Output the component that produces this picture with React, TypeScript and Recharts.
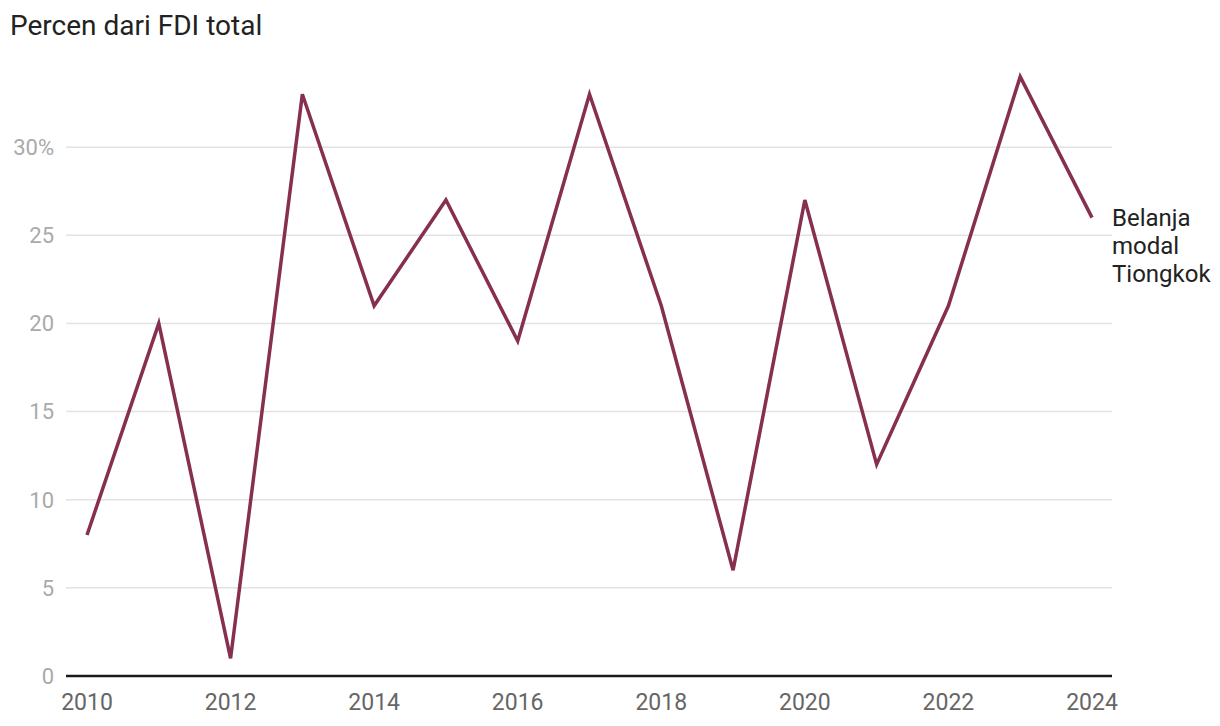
import React from "react";
import { LineChart, Line, XAxis, YAxis, CartesianGrid, LabelList } from "recharts";

const years = [2010, 2011, 2012, 2013, 2014, 2015, 2016, 2017, 2018, 2019, 2020, 2021, 2022, 2023, 2024];
const capexShare = [8, 20, 1, 33, 21, 27, 19, 33, 21, 6, 27, 12, 21, 34, 26];
const xTicks = [2010, 2012, 2014, 2016, 2018, 2020, 2022, 2024];
const yTicks = [0, 5, 10, 15, 20, 25, 30];
const seriesLabel = ["Belanja", "modal", "Tiongkok"];
const title = "Percen dari FDI total";

const data = years.map((y, i) => ({ year: y, value: capexShare[i] }));

const FONT = "Roboto, 'Noto Sans', sans-serif";
const LINE_COLOR = "#862f50";

const EndLabel = (props: any) => {
  const { x, y, index } = props;
  if (index !== data.length - 1) return null;
  return (
    <text x={x + 20} y={y + 8} fill="#222" fontSize={24} fontFamily={FONT}>
      {seriesLabel.map((s, i) => (
        <tspan key={i} x={x + 20} dy={i === 0 ? 0 : 28}>
          {s}
        </tspan>
      ))}
    </text>
  );
};

export default function App() {
  return (
    <div style={{ position: "absolute", left: 0, top: 0, width: 1220, height: 726, background: "#fff", fontFamily: FONT }}>
      <div style={{ position: "absolute", left: 10, top: 10, fontSize: 28, color: "#222", lineHeight: "32px" }}>{title}</div>
      <LineChart width={1220} height={726} data={data} margin={{ top: 59, right: 108, bottom: 20, left: 6 }}>
        <CartesianGrid vertical={false} stroke="#e2e2e2" strokeWidth={1.5} horizontalValues={yTicks} />
        <XAxis
          dataKey="year"
          type="number"
          domain={[2010, 2024]}
          ticks={xTicks}
          padding={{ left: 21, right: 20 }}
          tickLine={false}
          axisLine={{ stroke: "#1a1a1a", strokeWidth: 2.5 }}
          tick={{ fill: "#666", fontSize: 23, fontFamily: FONT }}
          tickMargin={12}
          interval={0}
        />
        <YAxis
          type="number"
          domain={[0, 35]}
          ticks={yTicks}
          width={60}
          tickLine={false}
          axisLine={false}
          tick={{ fill: "#aaa", fontSize: 22, fontFamily: FONT }}
          tickMargin={6}
          tickFormatter={(v: number) => (v === 30 ? "30%" : String(v))}
          interval={0}
        />
        <Line
          type="linear"
          dataKey="value"
          stroke={LINE_COLOR}
          strokeWidth={3.5}
          dot={false}
          isAnimationActive={false}
        >
          <LabelList dataKey="value" content={EndLabel} />
        </Line>
      </LineChart>
    </div>
  );
}
